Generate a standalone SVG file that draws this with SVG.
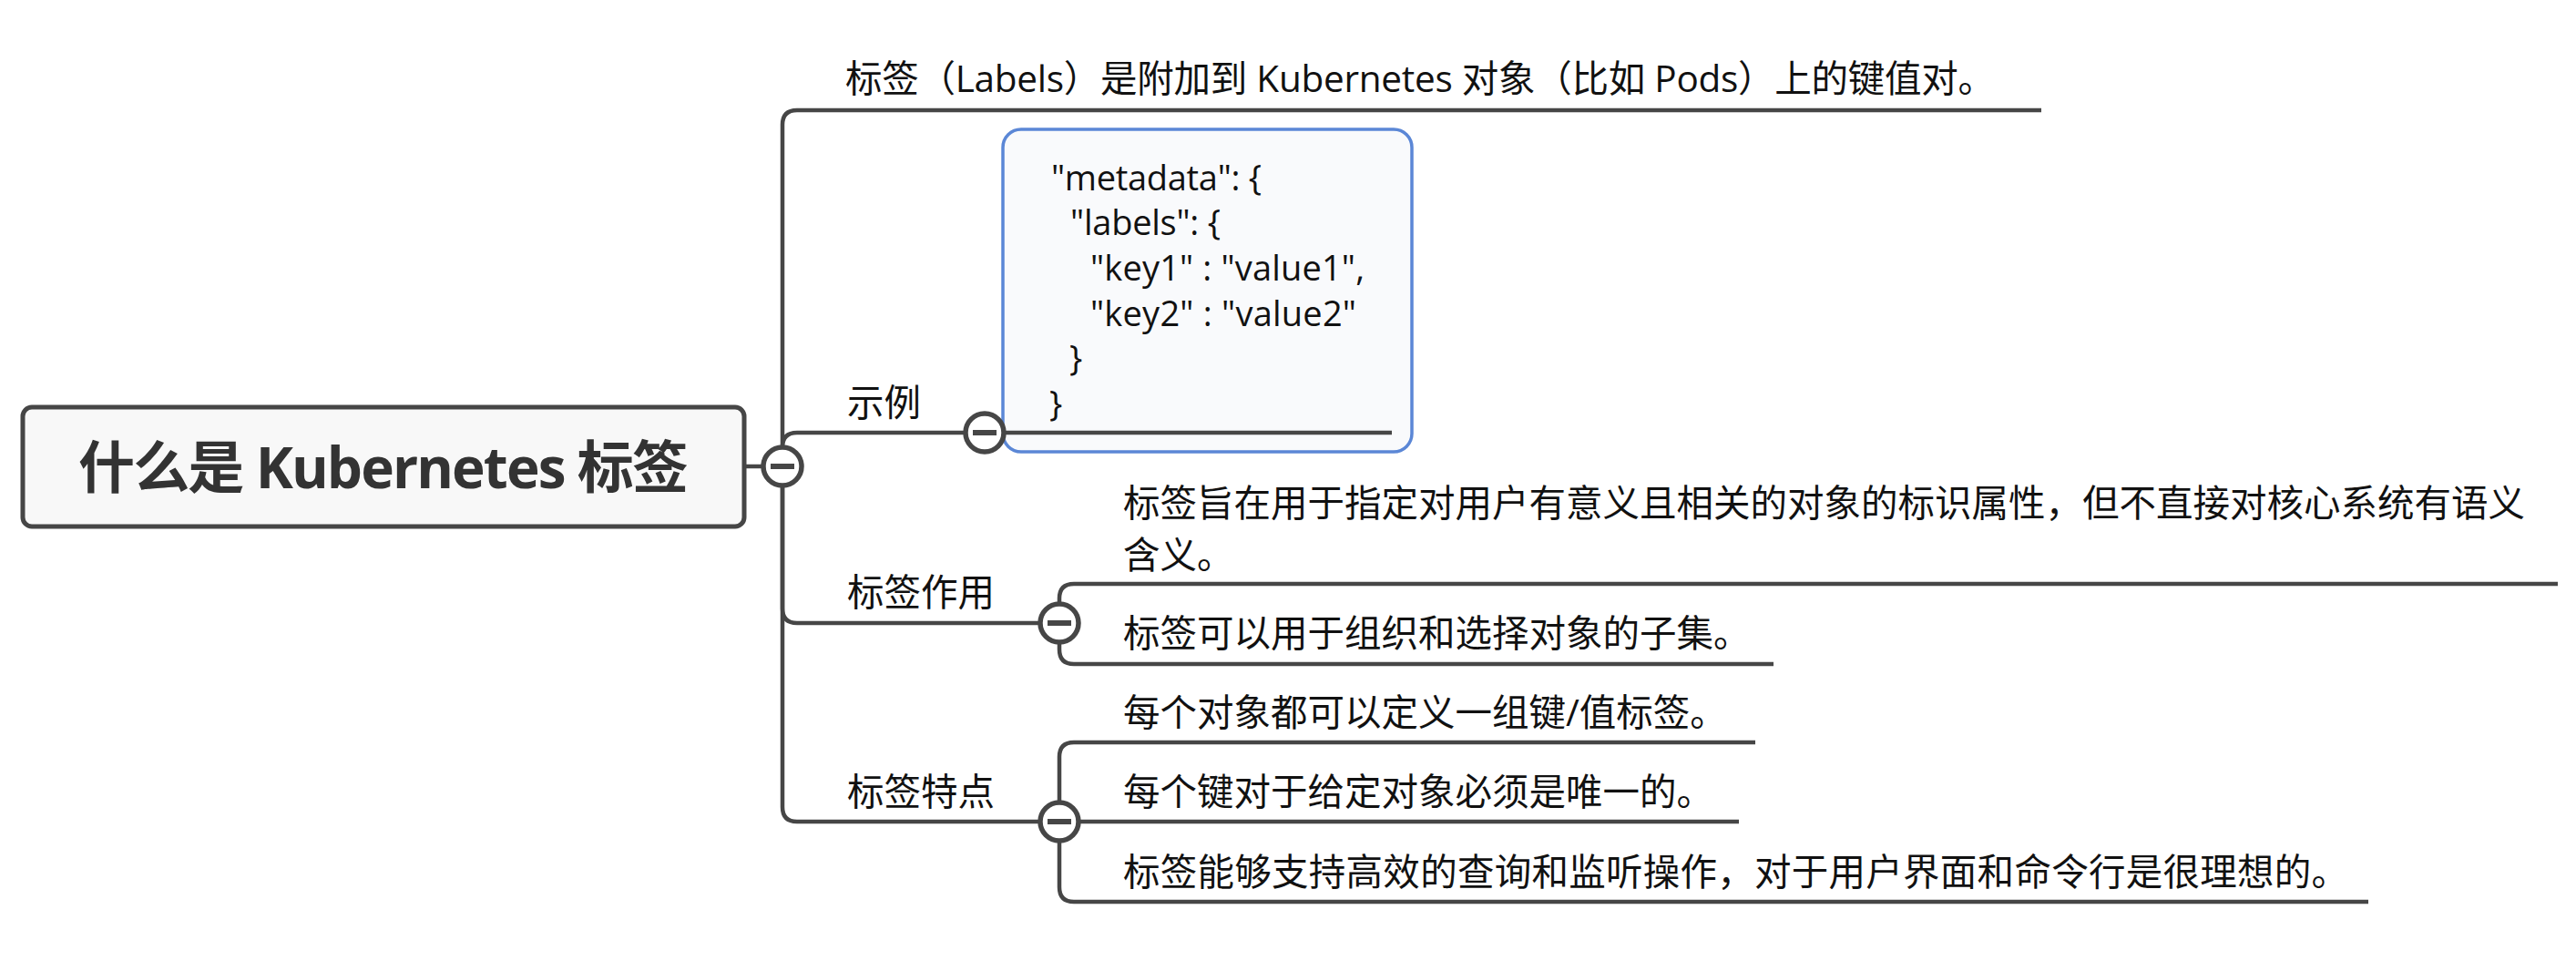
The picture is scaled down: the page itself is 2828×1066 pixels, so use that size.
<svg xmlns="http://www.w3.org/2000/svg" width="2828" height="1066" viewBox="0 0 2828 1066">
<style>
.t{font-family:'Open Sans','Noto Sans CJK SC',sans-serif;font-size:40.5px;fill:#111}
.c{font-family:'Open Sans','Noto Sans CJK SC',sans-serif;font-size:38px;fill:#111}
.root{font-family:'Open Sans','Noto Sans CJK SC',sans-serif;font-size:62px;font-weight:700;fill:#333}
.ln{fill:none;stroke:#464646;stroke-width:4.5;stroke-linecap:butt}
.tog circle{fill:#fff;stroke:#464646;stroke-width:5.5}
.tog rect{fill:#464646}
</style>
<rect width="2828" height="1066" fill="#fff"/>
<g id="node-code">
<rect x="1101" y="142" width="449" height="354" rx="20" fill="#f9fafc" stroke="#5b87d6" stroke-width="3.5"/>
<text class="c" x="1154" y="209" textLength="231">"metadata": {</text>
<text class="c" x="1175" y="258" textLength="165">"labels": {</text>
<text class="c" x="1197" y="308" textLength="301">"key1" : "value1",</text>
<text class="c" x="1197" y="358" textLength="292">"key2" : "value2"</text>
<text class="c" x="1174" y="407">}</text>
<text class="c" x="1152" y="457">}</text>
</g>
<g id="connectors">
<path class="ln" d="M817 512 H838"/>
<path class="ln" d="M859 512 V137 Q859 121 875 121 H2241"/>
<path class="ln" d="M859 512 V491 Q859 475 875 475 H1060"/>
<path class="ln" d="M1102 475 H1528"/>
<path class="ln" d="M859 512 V668 Q859 684 875 684 H1142"/>
<path class="ln" d="M859 512 V886 Q859 902 875 902 H1142"/>
<path class="ln" d="M1163 684 V657 Q1163 641 1179 641 H2808"/>
<path class="ln" d="M1163 684 V713 Q1163 729 1179 729 H1947"/>
<path class="ln" d="M1163 902 V831 Q1163 815 1179 815 H1927"/>
<path class="ln" d="M1184 902 H1909"/>
<path class="ln" d="M1163 902 V974 Q1163 990 1179 990 H2600"/>
</g>
<g id="node-root">
<rect x="25" y="447" width="792" height="131" rx="10" fill="#f8f8f8" stroke="#464646" stroke-width="5"/>
<text class="root" x="86" y="536" textLength="670">什么是 Kubernetes 标签</text>
</g>
<g id="toggle-root" class="tog"><circle cx="859" cy="512" r="21"/><rect x="846" y="509" width="26" height="6"/></g>
<g id="node-def">
<text class="t" x="928" y="101" textLength="1262">标签（Labels）是附加到 Kubernetes 对象（比如 Pods）上的键值对。</text>
</g>
<g id="node-example">
<text class="t" x="930" y="457">示例</text>
</g>
<g id="toggle-example" class="tog"><circle cx="1081" cy="475" r="21"/><rect x="1068" y="472" width="26" height="6"/></g>
<g id="node-role">
<text class="t" x="930" y="665">标签作用</text>
</g>
<g id="toggle-role" class="tog"><circle cx="1163" cy="684" r="21"/><rect x="1150" y="681" width="26" height="6"/></g>
<g id="node-role-1">
<text class="t" x="1233" y="567">标签旨在用于指定对用户有意义且相关的对象的标识属性，但不直接对核心系统有语义</text>
<text class="t" x="1233" y="624">含义。</text>
</g>
<g id="node-role-2">
<text class="t" x="1233" y="710">标签可以用于组织和选择对象的子集。</text>
</g>
<g id="node-feature">
<text class="t" x="930" y="884">标签特点</text>
</g>
<g id="toggle-feature" class="tog"><circle cx="1163" cy="902" r="21"/><rect x="1150" y="899" width="26" height="6"/></g>
<g id="node-feature-1">
<text class="t" x="1233" y="797">每个对象都可以定义一组键/值标签。</text>
</g>
<g id="node-feature-2">
<text class="t" x="1233" y="884">每个键对于给定对象必须是唯一的。</text>
</g>
<g id="node-feature-3">
<text class="t" x="1233" y="972" textLength="1345">标签能够支持高效的查询和监听操作，对于用户界面和命令行是很理想的。</text>
</g>
</svg>
